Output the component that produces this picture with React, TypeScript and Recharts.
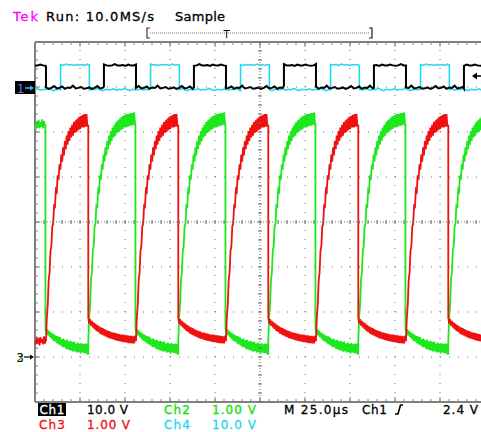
import React from 'react';
import { ComposedChart, Line, Scatter, XAxis, YAxis, ReferenceLine } from 'recharts';

// ---------- graticule (10 div x 25 µs, 8 div vertical) ----------
const majorTimes = [0, 25, 50, 75, 100, 125, 150, 175, 200, 225, 250];
const minorTimes = [0, 5, 10, 15, 20, 25, 30, 35, 40, 45, 50, 55, 60, 65, 70, 75, 80, 85, 90, 95, 100, 105, 110, 115, 120, 125, 130, 135, 140, 145, 150, 155, 160, 165, 170, 175, 180, 185, 190, 195, 200, 205, 210, 215, 220, 225, 230, 235, 240, 245, 250];
const majorDivs = [-4, -3, -2, -1, 0, 1, 2, 3, 4];
const minorDivs = [-4, -3.8, -3.6, -3.4, -3.2, -3, -2.8, -2.6, -2.4, -2.2, -2, -1.8, -1.6, -1.4, -1.2, -1, -0.8, -0.6, -0.4, -0.2, 0, 0.2, 0.4, 0.6, 0.8, 1, 1.2, 1.4, 1.6, 1.8, 2, 2.2, 2.4, 2.6, 2.8, 3, 3.2, 3.4, 3.6, 3.8, 4];

// ---------- channel scales ----------
const ch1Scale = { voltsPerDiv: 10, groundDiv: 2.98 };
const ch4Scale = { voltsPerDiv: 10, groundDiv: 2.98 };
const ch2Scale = { voltsPerDiv: 1, groundDiv: -3 };
const ch3Scale = { voltsPerDiv: 1, groundDiv: -3 };

// ---------- Ch1 (black) square wave, edges in µs ----------
const ch1Falls = [6.1, 56.1, 106.1, 156.1, 206.1];
const ch1Rises = [38.3, 88.3, 138.3, 188.3, 238.3];
const ch1High = [5.0, 5.0, 5.2, 5.0, 4.9, 5.0, 5.3, 5.0, 5.0, 5.1, 4.9, 5.2];
const ch1Low = [-0.1, 0.1, -0.2, 0.0, 0.4, -0.1, 0.0, 0.3, -0.2, 0.1, 0.0, 0.5, -0.1, 0.0, 0.2, -0.2];

// ---------- Ch4 (cyan) square wave ----------
const ch4Rises = [14.2, 64.2, 114.2, 164.2, 214.2];
const ch4Falls = [30.2, 80.2, 130.2, 180.2, 230.2];
const ch4High = [5.1, 5.2, 5.0, 5.3, 5.1, 5.2, 5.0, 5.2];
const ch4Low = [-0.4, -0.2, -0.5, -0.3, -0.4, -0.1, -0.4, -0.6, -0.3, -0.4];

// ---------- Ch2 (green) / Ch3 (red) edges ----------
const ch2Falls = [5.8, 55.8, 105.8, 155.8, 205.8];
const ch2Rises = [29.6, 79.6, 129.6, 179.6, 229.6];
const ch3Rises = [6.1, 56.1, 106.1, 156.1, 206.1];
const ch3Falls = [29.6, 79.6, 129.6, 179.6, 229.6];

// sampled every 0.5 µs after the edge (volts)
const riseShape = [0.35, 0.90, 1.16, 1.70, 1.88, 2.36, 2.46, 2.90, 2.96, 3.36, 3.34, 3.72, 3.68, 4.04, 3.94, 4.28, 4.16, 4.50, 4.34, 4.66, 4.48, 4.80, 4.62, 4.92, 4.72, 5.02, 4.80, 5.10, 4.88, 5.16, 4.92, 5.22, 4.98, 5.26, 5.00, 5.30, 5.04, 5.34, 5.06, 5.36, 5.10, 5.38, 5.10, 5.40, 5.12, 5.40, 5.14, 5.42, 5.14, 5.42, 5.16, 5.44, 5.16, 5.44];
const ch2LowShape = [0.64, 0.52, 0.62, 0.48, 0.58, 0.44, 0.55, 0.40, 0.52, 0.36, 0.50, 0.34, 0.47, 0.30, 0.46, 0.28, 0.44, 0.26, 0.40, 0.22, 0.41, 0.22, 0.37, 0.18, 0.38, 0.17, 0.35, 0.15, 0.36, 0.14, 0.33, 0.12, 0.34, 0.13, 0.30, 0.10, 0.32, 0.11, 0.29, 0.08, 0.31, 0.10, 0.28, 0.09, 0.30, 0.08, 0.29, 0.07, 0.28];
const ch3LowShape = [0.88, 0.74, 0.84, 0.70, 0.80, 0.66, 0.77, 0.62, 0.74, 0.58, 0.71, 0.56, 0.68, 0.52, 0.66, 0.50, 0.64, 0.48, 0.62, 0.46, 0.60, 0.44, 0.58, 0.42, 0.57, 0.41, 0.55, 0.40, 0.54, 0.38, 0.53, 0.37, 0.52, 0.36, 0.51, 0.35, 0.50, 0.34, 0.50, 0.33, 0.49, 0.33, 0.48, 0.32, 0.48, 0.31, 0.47, 0.31, 0.47, 0.30, 0.46, 0.30, 0.46, 0.29, 0.46];
const ch2StartHigh = [5.18, 5.06, 5.24, 5.10, 5.27, 5.08, 5.22, 5.12, 5.28, 5.08, 5.24, 5.14];
const ch3StartLow = [0.40, 0.28, 0.45, 0.30, 0.42, 0.26, 0.44, 0.32, 0.40, 0.28, 0.46, 0.30, 0.42];

const END_T = 250;

type Pt = { t: number; v: number };
type Scale = { voltsPerDiv: number; groundDiv: number };
const toDiv = (volts: number, s: Scale) => volts / s.voltsPerDiv + s.groundDiv;

function buildSquare(rises: number[], falls: number[], startHigh: boolean, hi: number[], lo: number[], s: Scale): Pt[] {
  const edges = [...rises, ...falls].sort((a, b) => a - b);
  const bounds = [0, ...edges, END_T];
  const pts: Pt[] = [];
  let high = startHigh;
  for (let k = 0; k < bounds.length - 1; k++) {
    const a = bounds[k];
    const b = bounds[k + 1];
    const w = high ? hi : lo;
    let i = 0;
    for (let t = a; t < b; t += 1.5) {
      pts.push({ t, v: toDiv(w[(i + k) % w.length], s) });
      i++;
    }
    pts.push({ t: b, v: toDiv(w[(i + k) % w.length], s) });
    high = !high;
  }
  return pts;
}

function addSegment(pts: Pt[], a: number, b: number, shape: number[], s: Scale) {
  let last = shape[0];
  for (let i = 0; i < shape.length; i++) {
    const t = a + i * 0.5;
    if (t >= b) break;
    last = shape[i];
    pts.push({ t, v: toDiv(last, s) });
  }
  pts.push({ t: b, v: toDiv(last, s) });
}

function buildCh2(): Pt[] {
  const pts: Pt[] = [];
  addSegment(pts, 0, ch2Falls[0], ch2StartHigh, ch2Scale);
  for (let k = 0; k < ch2Falls.length; k++) {
    addSegment(pts, ch2Falls[k], ch2Rises[k], ch2LowShape, ch2Scale);
    addSegment(pts, ch2Rises[k], k + 1 < ch2Falls.length ? ch2Falls[k + 1] : END_T, riseShape, ch2Scale);
  }
  return pts;
}

function buildCh3(): Pt[] {
  const pts: Pt[] = [];
  addSegment(pts, 0, ch3Rises[0], ch3StartLow, ch3Scale);
  for (let k = 0; k < ch3Rises.length; k++) {
    addSegment(pts, ch3Rises[k], ch3Falls[k], riseShape, ch3Scale);
    addSegment(pts, ch3Falls[k], k + 1 < ch3Rises.length ? ch3Rises[k + 1] : END_T, ch3LowShape, ch3Scale);
  }
  return pts;
}

const ch1Data = buildSquare(ch1Rises, ch1Falls, true, ch1High, ch1Low, ch1Scale);
const ch4Data = buildSquare(ch4Rises, ch4Falls, false, ch4High, ch4Low, ch4Scale);
const ch2Data = buildCh2();
const ch3Data = buildCh3();

const topTicks = minorTimes.map((t) => ({ t, v: 4 }));
const bottomTicks = minorTimes.map((t) => ({ t, v: -4 }));
const leftTicks = minorDivs.map((v) => ({ t: 0, v }));
const centerHTicks = minorTimes.map((t) => ({ t, v: 0 }));
const centerVTicks = minorDivs.map((v) => ({ t: 125, v }));
const topMajor = majorTimes.map((t) => ({ t, v: 4 }));
const bottomMajor = majorTimes.map((t) => ({ t, v: -4 }));
const leftMajor = majorDivs.map((v) => ({ t: 0, v }));

const FRAME = '#808080';
const GRID = '#6a6a6a';

const tickDown = (len: number) => (p: any) => <line x1={p.cx} y1={p.cy} x2={p.cx} y2={p.cy + len} stroke={FRAME} strokeWidth={1} />;
const tickUp = (len: number) => (p: any) => <line x1={p.cx} y1={p.cy} x2={p.cx} y2={p.cy - len} stroke={FRAME} strokeWidth={1} />;
const tickRight = (len: number) => (p: any) => <line x1={p.cx} y1={p.cy} x2={p.cx + len} y2={p.cy} stroke={FRAME} strokeWidth={1} />;
const tickV = (p: any) => <line x1={p.cx} y1={p.cy - 2} x2={p.cx} y2={p.cy + 2} stroke={GRID} strokeWidth={1} />;
const tickH = (p: any) => <line x1={p.cx - 2} y1={p.cy} x2={p.cx + 2} y2={p.cy} stroke={GRID} strokeWidth={1} />;

const FONT = '"DejaVu Sans", Verdana, sans-serif';
const T = { strokeWidth: 0.3 } as const;
const FS = 12;
const R1 = 414;
const R2 = 428.5;

export default function App() {
  return (
    <div style={{ position: 'absolute', left: 0, top: 0, width: 481, height: 432, overflow: 'hidden', background: '#fff' }}>
      <ComposedChart width={485} height={432} margin={{ top: 42, right: 0, bottom: 30, left: 35 }}>
        <XAxis type="number" dataKey="t" domain={[0, 250]} allowDataOverflow hide />
        <YAxis type="number" domain={[-4, 4]} allowDataOverflow hide />
        {majorTimes.filter((t) => t !== 0 && t !== 250 && t !== 125).map((t) => (
          <ReferenceLine key={'vx' + t} x={t} stroke={GRID} strokeDasharray="1 8" />
        ))}
        {majorDivs.filter((v) => v !== 4 && v !== -4 && v !== 0).map((v) => (
          <ReferenceLine key={'hy' + v} y={v} stroke={GRID} strokeDasharray="1 8" />
        ))}
        <ReferenceLine x={125} stroke={GRID} strokeDasharray="1 2" />
        <ReferenceLine y={0} stroke={GRID} strokeDasharray="1 2" />
        <ReferenceLine y={4} stroke={FRAME} strokeWidth={2} />
        <ReferenceLine y={-4} stroke={FRAME} strokeWidth={2} />
        <ReferenceLine x={0} stroke={FRAME} strokeWidth={2} />
        <Scatter data={topTicks} dataKey="v" shape={tickDown(3)} isAnimationActive={false} />
        <Scatter data={topMajor} dataKey="v" shape={tickDown(5)} isAnimationActive={false} />
        <Scatter data={bottomTicks} dataKey="v" shape={tickUp(3)} isAnimationActive={false} />
        <Scatter data={bottomMajor} dataKey="v" shape={tickUp(5)} isAnimationActive={false} />
        <Scatter data={leftTicks} dataKey="v" shape={tickRight(3)} isAnimationActive={false} />
        <Scatter data={leftMajor} dataKey="v" shape={tickRight(5)} isAnimationActive={false} />
        <Scatter data={centerHTicks} dataKey="v" shape={tickV} isAnimationActive={false} />
        <Scatter data={centerVTicks} dataKey="v" shape={tickH} isAnimationActive={false} />
        <Line data={ch4Data} dataKey="v" type="linear" stroke="#22d8ee" strokeWidth={1.6} dot={false} isAnimationActive={false} />
        <Line data={ch1Data} dataKey="v" type="linear" stroke="#000000" strokeWidth={2} dot={false} isAnimationActive={false} />
        <Line data={ch2Data} dataKey="v" type="linear" stroke="#1de81d" strokeWidth={1.8} dot={false} isAnimationActive={false} />
        <Line data={ch3Data} dataKey="v" type="linear" stroke="#f01010" strokeWidth={1.8} dot={false} isAnimationActive={false} />
      </ComposedChart>
      <svg width={481} height={432} style={{ position: 'absolute', left: 0, top: 0, pointerEvents: 'none' }} fontFamily={FONT}>
        {/* header */}
        <text x={13} y={21} fontSize={13} fill="#ff00ff" stroke="#ff00ff" {...T} textLength={25}>Tek</text>
        <text x={46} y={21} fontSize={13} fill="#000" stroke="#000" {...T} textLength={108}>Run: 10.0MS/s</text>
        <text x={175} y={21} fontSize={13} fill="#000" stroke="#000" {...T} textLength={50}>Sample</text>
        {/* trigger position bar */}
        <path d="M150,28 H147 V38 H150" stroke="#602060" strokeWidth={1.2} fill="none" />
        <line x1={150} y1={33} x2={370} y2={33} stroke="#777" strokeDasharray="1 1" />
        <text x={223.5} y={37.5} fontSize={10} fill="#000">T</text>
        <path d="M369,28 H372 V38 H369" stroke="#301030" strokeWidth={1.2} fill="none" />
        {/* channel 1/4 ground marker */}
        <rect x={15} y={81} width={20} height={13} fill="#000" />
        <text x={17} y={92.5} fontSize={11.5} fill="#5a80ff">1</text>
        <path d="M25,88 H33" stroke="#2ab8ff" strokeWidth={1.5} />
        <path d="M34,88 L30,85.5 L30,90.5 Z" fill="#2ab8ff" />
        {/* channel 2/3 ground marker */}
        <text x={16.5} y={361.5} fontSize={11.5} fill="#2a2">2</text>
        <text x={16.5} y={361.5} fontSize={11.5} fill="#111">3</text>
        <path d="M24,357 H32" stroke="#000" strokeWidth={1.2} />
        <path d="M34,357 L30,354.5 L30,359.5 Z" fill="#000" />
        {/* trigger level arrow */}
        <path d="M472,76 L477,72.5 L477,79.5 Z" fill="#000" />
        <path d="M476,76 H481" stroke="#000" strokeWidth={1.5} />
        {/* footer row 1 */}
        <rect x={38} y={403} width={28} height={13} fill="#000" />
        <text x={39.5} y={R1} fontSize={FS} fill="#fff" stroke="#fff" {...T} textLength={25}>Ch1</text>
        <text x={87} y={R1} fontSize={FS} fill="#000" stroke="#000" {...T} textLength={41}>10.0 V</text>
        <text x={164} y={R1} fontSize={FS} fill="#10e010" stroke="#10e010" {...T} textLength={26}>Ch2</text>
        <text x={212} y={R1} fontSize={FS} fill="#10e010" stroke="#10e010" {...T} textLength={44}>1.00 V</text>
        <text x={284} y={R1} fontSize={FS} fill="#000" stroke="#000" {...T} textLength={64}>M 25.0µs</text>
        <text x={362} y={R1} fontSize={FS} fill="#000" stroke="#000" {...T} textLength={25}>Ch1</text>
        <path d="M395,414 H398 L400.5,405 H403" stroke="#000" strokeWidth={1.6} fill="none" />
        <text x={443} y={R1} fontSize={FS} fill="#000" stroke="#000" {...T} textLength={35}>2.4 V</text>
        {/* footer row 2 */}
        <text x={39} y={R2} fontSize={FS} fill="#f01010" stroke="#f01010" {...T} textLength={26}>Ch3</text>
        <text x={87} y={R2} fontSize={FS} fill="#f01010" stroke="#f01010" {...T} textLength={43}>1.00 V</text>
        <text x={164} y={R2} fontSize={FS} fill="#22d8ee" stroke="#22d8ee" {...T} textLength={26}>Ch4</text>
        <text x={212} y={R2} fontSize={FS} fill="#22d8ee" stroke="#22d8ee" {...T} textLength={44}>10.0 V</text>
      </svg>
    </div>
  );
}
